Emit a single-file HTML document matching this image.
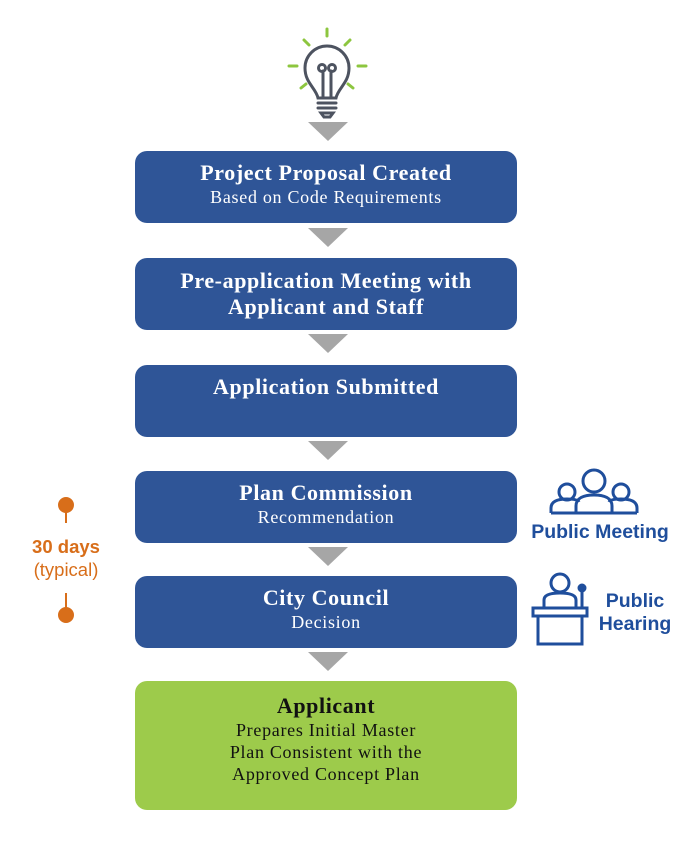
<!DOCTYPE html>
<html><head><style>
body{margin:0;width:693px;height:868px;background:#fff;position:relative;overflow:hidden;font-family:"Liberation Serif",serif;}
.b{position:absolute;left:135px;width:382px;background:#2F5597;border-radius:12px;color:#fff;text-align:center;box-sizing:border-box;}
.t{font-weight:bold;font-size:22px;line-height:26px;letter-spacing:0.6px;}
.s{font-size:18px;line-height:22px;letter-spacing:0.7px;}
.a{position:absolute;left:308px;width:0;height:0;border-left:20px solid transparent;border-right:20px solid transparent;border-top:19px solid #A6A6A6;}
.o{position:absolute;color:#D86E1A;font-family:"Liberation Sans",sans-serif;text-align:center;}
.p{position:absolute;color:#1F4E9C;font-family:"Liberation Sans",sans-serif;font-weight:bold;font-size:19.5px;line-height:23px;text-align:center;}
</style></head><body>
<svg style="position:absolute;left:280px;top:25px" width="100" height="100" viewBox="280 25 100 100">
<g stroke="#8DC63F" stroke-width="3" stroke-linecap="round">
<line x1="327" y1="29" x2="327" y2="36"/><line x1="304" y1="40" x2="309" y2="45"/><line x1="350" y1="40" x2="345" y2="45"/>
<line x1="289" y1="66" x2="297" y2="66"/><line x1="358" y1="66" x2="366" y2="66"/>
<line x1="301" y1="88" x2="306" y2="84"/><line x1="353" y1="88" x2="348" y2="84"/></g>
<g stroke="#4D5360" stroke-width="3" fill="none" stroke-linecap="round">
<path d="M318 98 C316 88 305 83 305 68 A22 22 0 0 1 349 68 C349 83 338 88 336 98 Z"/>
<path d="M323 97 V71 M331 97 V71"/><circle cx="322" cy="68" r="3.5"/><circle cx="332" cy="68" r="3.5"/>
<line x1="318" y1="103" x2="336" y2="103"/><line x1="318" y1="108" x2="336" y2="108"/><path d="M321 113 H333 L330 117 H324 Z"/></g>
</svg>
<div class="a" style="top:122px"></div>
<div class="b" style="top:151px;height:72px;padding-top:9px"><div class="t">Project Proposal Created</div><div class="s">Based on Code Requirements</div></div>
<div class="a" style="top:228px"></div>
<div class="b" style="top:258px;height:72px;padding-top:10px"><div class="t">Pre-application Meeting with<br>Applicant and Staff</div></div>
<div class="a" style="top:334px"></div>
<div class="b" style="top:365px;height:72px;padding-top:9px"><div class="t">Application Submitted</div></div>
<div class="a" style="top:441px"></div>
<div class="b" style="top:471px;height:72px;padding-top:9px"><div class="t">Plan Commission</div><div class="s">Recommendation</div></div>
<div class="a" style="top:547px"></div>
<div class="b" style="top:576px;height:72px;padding-top:9px"><div class="t">City Council</div><div class="s">Decision</div></div>
<div class="a" style="top:652px"></div>
<div class="b" style="top:681px;height:129px;padding-top:12px;background:#9DCB4B;color:#111"><div class="t">Applicant</div><div class="s" style="line-height:22px">Prepares Initial Master<br>Plan Consistent with the<br>Approved Concept Plan</div></div>
<svg style="position:absolute;left:50px;top:495px" width="32" height="130">
<g fill="#D86E1A" stroke="#D86E1A" stroke-width="2"><circle cx="16" cy="10" r="7"/><line x1="16" y1="10" x2="16" y2="28"/><line x1="16" y1="98" x2="16" y2="120"/><circle cx="16" cy="120" r="7"/></g></svg>
<div class="o" style="left:16px;width:100px;top:536px;font-weight:bold;font-size:18.5px">30 days</div>
<div class="o" style="left:16px;width:100px;top:559px;font-size:18.5px">(typical)</div>
<svg style="position:absolute;left:548px;top:468px" width="92" height="48" fill="none" stroke="#1F4E9C" stroke-width="3">
<circle cx="19" cy="24" r="8"/><circle cx="73" cy="24" r="8"/><circle cx="46" cy="13" r="11"/>
<path d="M3 45 V40 C3 33 10 31 19 31 C26 31 30 32 31 34"/><path d="M89 45 V40 C89 33 82 31 73 31 C66 31 62 32 61 34"/>
<path d="M28 45 V38 C28 30 36 27 46 27 C56 27 64 30 64 38 V45 Z"/><path d="M3 45 H89"/></svg>
<div class="p" style="left:520px;width:160px;top:521px">Public Meeting</div>
<svg style="position:absolute;left:530px;top:570px" width="70" height="78" fill="none" stroke="#1F4E9C" stroke-width="3">
<circle cx="30" cy="13" r="9"/><path d="M14 38 V30 C14 25 20 23 30 23 C40 23 46 25 46 30 V38"/>
<circle cx="52" cy="18" r="3" fill="#1F4E9C"/><line x1="52" y1="21" x2="52" y2="38"/>
<rect x="3" y="38" width="54" height="8"/><path d="M8 46 V74 H52 V46"/></svg>
<div class="p" style="left:595px;width:80px;top:590px">Public<br>Hearing</div>
</body></html>
